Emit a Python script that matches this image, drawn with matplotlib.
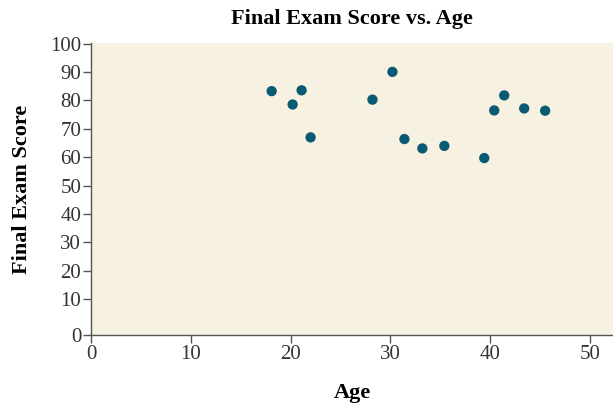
import matplotlib
matplotlib.use('Agg')
import matplotlib.pyplot as plt

# datos
age = [18.1, 20.2, 21.1, 22.0, 28.2, 30.2, 31.4, 33.2, 35.4, 39.4, 40.4, 41.4, 43.4, 45.5]
score = [83.3, 78.6, 83.6, 67.0, 80.3, 90.1, 66.4, 63.1, 64.0, 59.7, 76.5, 81.8, 77.2, 76.4]
x_ticks = [0, 10, 20, 30, 40, 50]
y_ticks = [10, 20, 30, 40, 50, 60, 70, 80, 90, 100]

plt.rcParams['font.family'] = ['Liberation Serif', 'DejaVu Serif']

fig = plt.figure(figsize=(6.13, 4.09), dpi=100)
ax = fig.add_axes([0.1485, 0.181, 0.8515, 0.714])
ax.set_facecolor('#F7F1E1')

ax.scatter(age, score, s=55, color='#0B5A73', edgecolors='none', zorder=3)

# el eje y baja un poco por debajo de 0 y el "0" se dibuja en el borde
y_floor = -2.7
ax.set_xlim(0, 52.3)
ax.set_ylim(y_floor, 100.3)
ax.set_xticks(x_ticks)
ax.set_yticks([y_floor] + y_ticks)
ax.set_yticklabels(['0'] + [str(v) for v in y_ticks])

for side in ['top', 'right']:
    ax.spines[side].set_visible(False)
for side in ['left', 'bottom']:
    ax.spines[side].set_color('#555555')
    ax.spines[side].set_linewidth(1.0)
ax.tick_params(direction='out', length=6, width=1, color='#555555',
               labelsize=15, labelcolor='#333333', pad=1)

ax.set_title('Final Exam Score vs. Age', fontsize=16, fontweight='bold', pad=14)
ax.set_xlabel('Age', fontsize=16, fontweight='bold', labelpad=14)
ax.set_ylabel('Final Exam Score', fontsize=16, fontweight='bold', labelpad=13)

fig.savefig('out.png', dpi=100)
plt.close(fig)
